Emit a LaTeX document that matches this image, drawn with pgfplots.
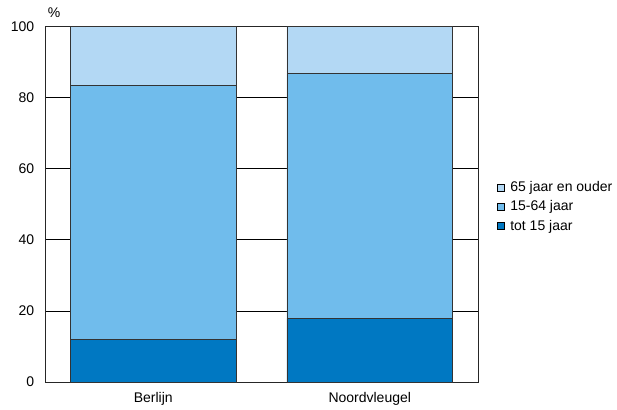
\documentclass[border=0pt]{standalone}
\usepackage{pgfplots}
\pgfplotsset{compat=1.18}
\usepackage{fontspec}
\setmainfont{Liberation Sans}
\definecolor{cdark}{HTML}{0078C2}
\definecolor{cmid}{HTML}{70BCEC}
\definecolor{clight}{HTML}{B3D8F4}
\begin{document}
\fontsize{14}{16}\selectfont
\begin{tikzpicture}[x=1pt,y=1pt]
\path[use as bounding box] (0,0) rectangle (617,409);
\begin{axis}[
  at={(45pt,27pt)}, anchor=south west,
  scale only axis, width=433pt, height=355.3pt,
  ybar stacked, bar width=0.765,
  xmin=-0.5, xmax=1.5, ymin=0, ymax=100,
  xtick=data, xticklabels={Berlijn,Noordvleugel},
  ytick={0,20,40,60,80,100},
  major tick length=0pt,
  ymajorgrids, grid style={black, line width=0.8pt},
  axis line style={black!85, line width=0.9pt},
  /pgf/number format/assume math mode=true,
  ticklabel style={font=\fontsize{14}{16}\selectfont},
  yticklabel style={xshift=-6pt},
  xticklabel style={yshift=-5pt},
  legend style={draw=none, fill=none, at={(1.036,0.493)}, anchor=west,
    font=\fontsize{14}{16}\selectfont, row sep=3pt,
    /tikz/every odd column/.append style={column sep=4pt}},
  legend cell align=left,
  reverse legend,
  legend image code/.code={\draw[#1,draw=black,line width=0.5pt] (0pt,-3.5pt) rectangle (7pt,3.5pt);},
]
\addplot[fill=cdark, draw=black!80, line width=0.8pt] coordinates {(0,12.1) (1,17.9)};
\addplot[fill=cmid, draw=black!80, line width=0.8pt] coordinates {(0,71.3) (1,68.9)};
\addplot[fill=clight, draw=black!80, line width=0.8pt] coordinates {(0,16.6) (1,13.2)};
\legend{tot 15 jaar,15-64 jaar,65 jaar en ouder}
\end{axis}
\node at (54,396) {\%};
\end{tikzpicture}
\end{document}
